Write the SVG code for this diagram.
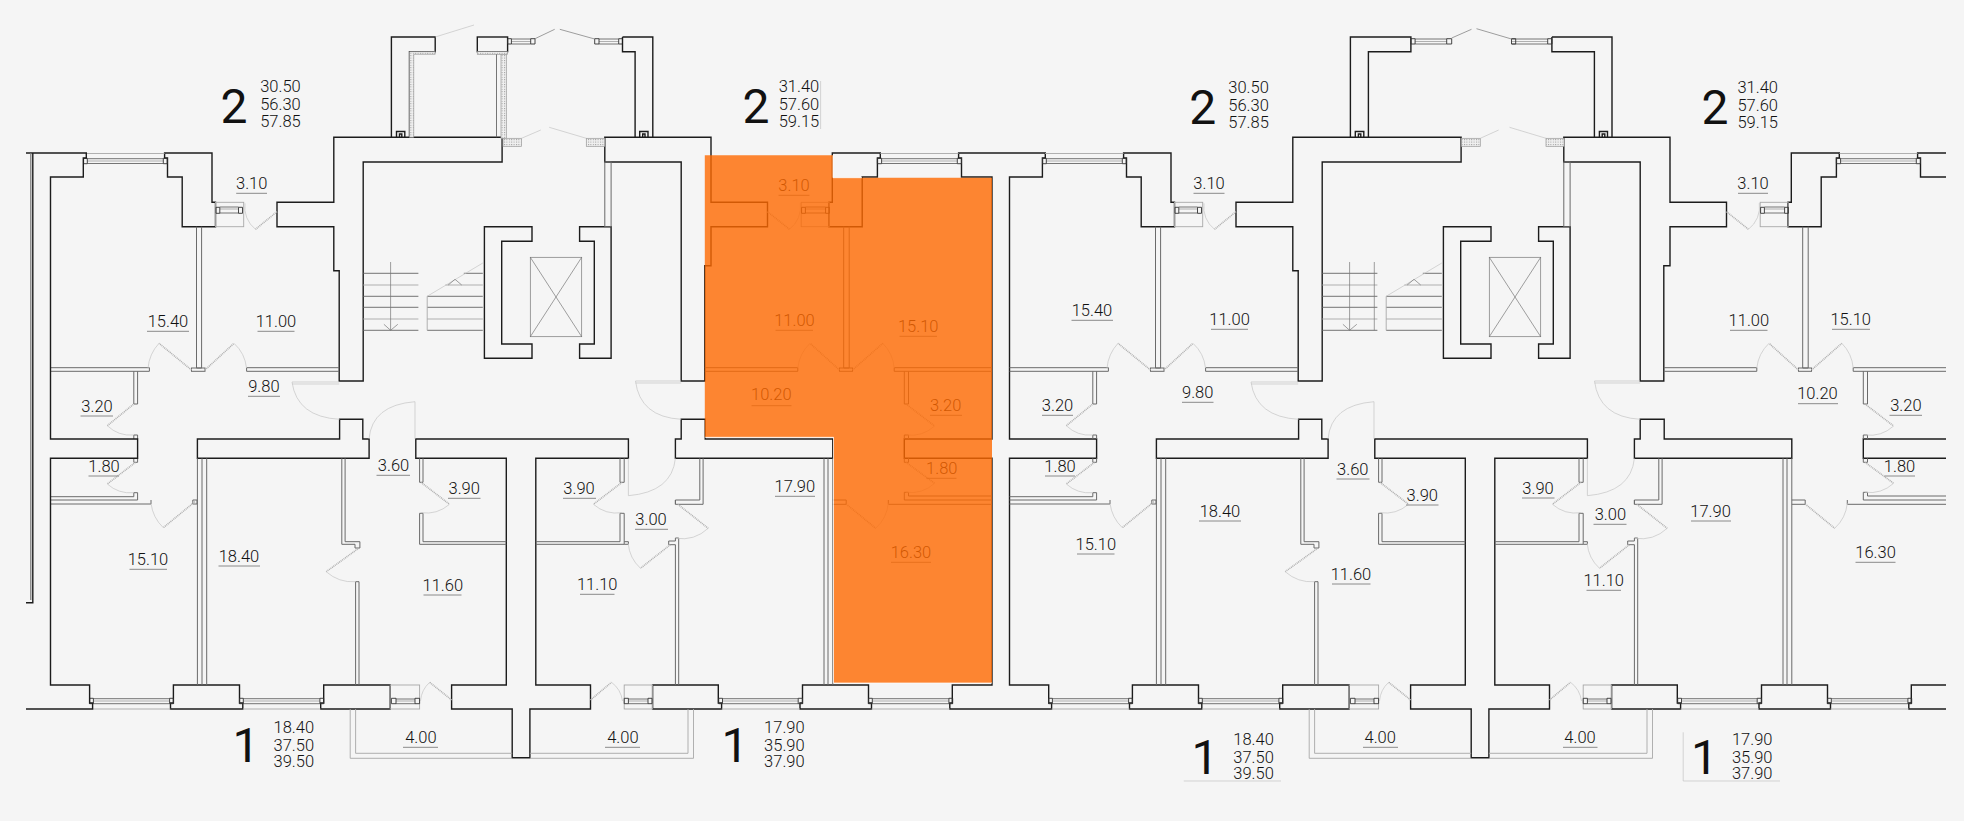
<svg xmlns="http://www.w3.org/2000/svg" width="1964" height="821" viewBox="0 0 1964 821">
<style>
text{font-family:Roboto,"Liberation Sans",sans-serif;font-weight:300;fill:#111;text-anchor:middle}
.t{font-size:16.5px}
.big{font-size:48px;font-weight:400}
.a{font-size:16.5px}
.w,.p,.l,.j,.d,.f,.s,.u,.x{fill:none}
.w{stroke:#1c1c1c;stroke-width:1.4}
.p{stroke:#6a6a6a;stroke-width:1}
.l{stroke:#a8a8a8;stroke-width:.9}
.j{stroke:#333;stroke-width:.9}
.d{stroke:#c4c4c4;stroke-width:.7}
.f{stroke:#b0b0b0;stroke-width:1.6;stroke-dasharray:1 .8}
.s{stroke:#666;stroke-width:.9}
.x{stroke:#777;stroke-width:.7}
.u{stroke:#8a8a8a;stroke-width:1}
.h{fill:url(#hatch);stroke:#999;stroke-width:.7}
</style>
<defs>
<pattern id="hatch" width="2.4" height="2.4" patternUnits="userSpaceOnUse"><rect width="2.4" height="2.4" fill="#f0f0f0"/><rect width="1" height="1" fill="#999"/></pattern>
<clipPath id="edge"><rect x="0" y="0" width="1946" height="821"/></clipPath>
<g id="module">
  <path class="w" d="M164.6,153H212V202.3H215.5V226.7H182.2V177H167.5V158H164.6Z"/>
  <path class="w" d="M333.8,137.3H502.1V162H363.2V381H339.2V270.7H333.8V226.7H277V202.3H333.8Z"/>
  <path class="w" d="M604.8,137.3H711V202.3H767.5V226.7H711V265.7H704.8V381H681.2V162H604.8Z"/>
  <path class="w" d="M484.4,226.7H532V241.3H501.7V344H532V358.3H484.4Z"/>
  <path class="w" d="M579.6,226.7H611.1V358.3H579.6V344H594.3V241.3H579.6Z"/>
  <rect class="x" x="530.3" y="257.3" width="51.4" height="79.4"/>
  <path class="x" d="M530.3,257.3L581.7,336.7M581.7,257.3L530.3,336.7"/>
  <rect class="p" x="604.8" y="162" width="6.3" height="64.7"/>
  <path class="s" d="M363.2,273.3H418.4M363.2,296.3H418.4M363.2,307.3H418.4M363.2,330.3H418.4M463.8,273.3H482.8M427.2,296.3H482.8M427.2,307.3H482.8M427.2,330.3H482.8"/>
  <path class="l" d="M363.2,285H418.4M363.2,319H418.4M445.3,285H482.8M427.2,319H482.8M427.2,296.3V330.3"/>
  <path class="d" d="M427.2,296.3L482.8,263"/>
  <path class="x" d="M390.6,262V330.3M383.9,324.3L390.6,330.3L397.8,324.3M448.2,285L455,279.3L461.7,285"/>
  <path class="w" d="M197.4,439H339.6V419.3H362.8V439H369.1V458.3H197.4Z"/>
  <path class="w" d="M415.8,439H628.4V458.3H535.8V685H590.5V709H529.9V757.7H512.2V709H451.6V685H506.3V458.3H415.8Z"/>
  <path class="w" d="M675.4,439H681.2V419.3H705.2V439H832.8V458.3H675.4Z"/>
  <path class="w" d="M173.4,685H239.5V703H242.8V709H170.5V703H173.4Z"/>
  <path class="w" d="M323.7,685H390.2V709H320.7V703H323.7Z"/>
  <path class="w" d="M652.6,685H718.3V703H721.6V709H652.6Z"/>
  <path class="w" d="M802.5,685H868.5V703H871.5V709H800V703H802.5Z"/>
  <path class="w" d="M832.3,153H880.3V158H877.4V177H862.2V226.7H829V202.3H832.3Z"/>
  <path class="w" d="M958.6,153H1045.3V158H1042.4V177H1009.5V439H1096.6V458.3H1009.5V685H1048.7V703H1051.6V709H949.8V703H952.3V685H992V458.3H904.3V439H992V177H961.5V158H958.6Z"/>
  <path class="p" d="M196.5,226.7V368H201.6V226.7"/>
  <rect class="p" x="191.5" y="368" width="13.5" height="3.3"/>
  <path class="p" d="M50.5,367.7H149.4V371.3H50.5M246.6,371.3V367.7H339.2M246.6,371.3H339.2"/>
  <path class="p" d="M133.8,371.3V404H137.6V371.3"/>
  <path class="p" d="M133.8,439V435H137.6V439M133.8,458.3V462.3H137.6V458.3"/>
  <path class="p" d="M50.5,496.7H133.8V492.7H137.6V500H50.5M50.5,504H151V500M192.8,504H197V500H192.8Z"/>
  <path class="p" d="M197.4,458.3V685M202,458.3V685M206.7,458.3V685"/>
  <path class="p" d="M341.8,458.3V544.3H355V548H359.9V541.7H345.1V458.3"/>
  <path class="p" d="M355.6,685V581.7H359V685"/>
  <path class="p" d="M423,458.3V482.3H419.6V458.3M419.6,513.3H423V541.7H506.3M419.6,513.3V544.3H506.3"/>
  <path class="p" d="M620,458.3V482.3H624.2V458.3M620,513.3H624.2V544.3H535.8M620,513.3V541.7H535.8M624.2,541.7H628.4V544.3H624.2"/>
  <path class="p" d="M699.8,458.3V500H675.4V504.3H703.1V458.3M675.4,500V504.3"/>
  <path class="p" d="M668.7,544.7V541H675.4V538H678.7V685M675.4,544.7V685M668.7,544.7H675.4"/>
  <path class="p" d="M824,458.3V685M828,458.3V685M832.8,458.3V685"/>
  <path class="p" d="M843.7,226.7V368H849.2V226.7"/>
  <rect class="p" x="839.5" y="368" width="13" height="3.3"/>
  <path class="p" d="M704.8,367.7H797.8V371.3H704.8M894.2,371.3V367.7H991.9M894.2,371.3H991.9"/>
  <path class="p" d="M904.3,371.3V404H908.5V371.3M904.3,439V435H908.5V439M904.3,458.3V462.3H908.5V458.3"/>
  <path class="p" d="M991.9,496H908.5V492.3H904.3V500H991.9M991.9,504.3H888.3V500M832.8,500H846.2V504.3H832.8"/>
  <path class="l" d="M86,153.5H164.6M880.3,153.5H958.6"/>
  <path class="s" d="M87.3,158.7H163.3M87.3,163.5H163.3M881.6,158.7H957.3M881.6,163.5H957.3"/>
  <path class="l" d="M87.3,161H163.3M881.6,161H957.3"/>
  <path class="j" d="M83.6,158.3h3.7v5.4h-3.7zM163.3,158.3h3.9v5.4h-3.9zM877.4,158.3h4.2v5.4h-4.2zM957.3,158.3h4.2v5.4h-4.2z"/>
  <rect class="l" x="215.5" y="202.3" width="28.2" height="24.4"/>
  <rect class="l" x="801.2" y="202.3" width="28" height="24.4"/>
  <path class="s" d="M219.8,207H238.5M219.8,213H238.5M805.4,207H825.6M805.4,213H825.6"/>
  <path class="l" d="M219.8,209H238.5M805.4,209H825.6"/>
  <path class="j" d="M216,207.3h3.8v6h-3.8zM238.5,207.3h4v6h-4zM801.6,207.3h3.8v6h-3.8zM825.6,207.3h3.8v6h-3.8z"/>
  <path class="s" d="M93.4,698.7H169.6M93.4,703.7H169.6M243.3,698.7H319.9M243.3,703.7H319.9M722.5,698.7H798.2M722.5,703.7H798.2M872.3,698.7H948.9M872.3,703.7H948.9M396,699H415M396,703.7H415M628.4,699H648M628.4,703.7H648"/>
  <path class="l" d="M93.4,701H169.6M243.3,701H319.9M722.5,701H798.2M872.3,701H948.9M396,701H415M628.4,701H648M92.6,709H170.5M242.8,709H320.7M721.6,709H800M871.5,709H949.8"/>
  <rect class="l" x="390.2" y="685" width="29.4" height="24"/>
  <rect class="l" x="624.2" y="685" width="28.4" height="24"/>
  <path class="j" d="M89.6,698.3h3.8v5.4h-3.8zM169.6,698.3h3.8v5.4h-3.8zM239.5,698.3h3.8v5.4h-3.8zM319.9,698.3h3.8v5.4h-3.8zM391.4,698.3h4.6v5.4h-4.6zM415,698.3h4.6v5.4h-4.6zM624.2,698.3h4.2v5.4h-4.2zM648,698.3h4v5.4h-4zM718.7,698.3h3.8v5.4h-3.8zM798.2,698.3h4.3v5.4h-4.3zM868.5,698.3h3.8v5.4h-3.8zM948.9,698.3h3.8v5.4h-3.8z"/>
  <path class="l" d="M350.2,709V758.3H512.2M529.9,758.3H693.5V709M355.6,709V753.3H512.2M529.9,753.3H688V709"/>
  <path class="f" d="M191.5,370L159,343.3M205,370L234,343.3M107.3,425.7L133.8,404M135.5,462.3L107.3,484M194.9,501.7L163.3,527.7M421,482.3L449.5,504.3M622,482.3L593.4,504.3M359,548L326.2,571.7M677.9,504.3L708.2,528.3M670.3,544.7L640.5,568.3M839.5,370L810,343.3M852.5,370L882.8,343.3M846.2,504L875.7,528.3M906,462.3L934.6,483.3M906,404L934.6,426M277,211.7L255.5,229.3M767.5,211.7L789.4,229.3M451.6,700L429.7,682.3M590.5,700L611.5,682.3"/>
  <path class="d" d="M159,343.3A42,42 0 0 0 148,368.3M234,343.3A39,39 0 0 1 246.5,368M107.3,425.7A34,34 0 0 0 133.8,435M107.3,484A35,35 0 0 0 133.8,492.7M163.3,527.7A41,41 0 0 1 151,503.3M449.5,504.3A36,36 0 0 1 421,512.7M593.4,504.3A36,36 0 0 0 622,512.7M326.2,571.7A40,40 0 0 0 355.6,581.7M708.2,528.3A39,39 0 0 1 675.8,538.3M640.5,568.3A38,38 0 0 1 628.2,543.3M810,343.3A40,40 0 0 0 797.8,368M882.8,343.3A40,40 0 0 1 894.2,368M875.7,528.3A39,39 0 0 0 888.3,503M934.6,483.3A36,36 0 0 1 906,492.3M934.6,426A36,36 0 0 1 906,435M255.5,229.3A28,28 0 0 1 245,203.3M789.4,229.3A28,28 0 0 0 800.3,203M429.7,682.3A28,28 0 0 0 420.5,701M611.5,682.3A28,28 0 0 1 622.5,701"/>
  <path class="d" d="M292,382H339.2M292,384H339.2M292,382Q297,417 339.6,419.3M415,401.7V439M369,439Q372,405 415,401.7M628.4,458.3V495.7M675.4,458.3Q672,492 628.4,495.7M635.5,381H681.2M635.5,383H681.2M635.5,381Q640,417 681.2,419.3"/>
</g>
</defs>

<rect width="1964" height="821" fill="#f5f5f5"/>

<g id="plan-section-1">
  <use href="#module"/>
  <g id="section-1-ends">
    <path class="w" d="M26,153H86.3V158H83.3V177H50.5V439H137.6V458.3H50.5V685H89.6V703H92.6V709H26"/>
    <path class="w" d="M32.8,153V602.7H26"/>
    <path d="M30.8,153V600" fill="none" stroke="#777" stroke-width="1.2"/>
  </g>
  <g id="section-1-balcony">
    <path class="w" d="M391.4,137.3V37H435.2V51.7H409.5V137.3"/>
    <path class="w" d="M396.5,137.3V131.5H404.8V137.3M399.5,137.3V134H401.8V137.3"/>
    <path class="h" d="M409.5,51.7H435.2V54.3H413.7V137.3H409.5Z"/>
    <rect class="w" x="477.3" y="37" width="30.3" height="14.7"/>
    <rect class="h" x="477.3" y="51.7" width="30.3" height="2.6"/>
    <path class="s" d="M496.5,54.3V137.3"/>
    <rect class="h" x="501" y="54.3" width="5.3" height="84"/>
    <rect class="h" x="503" y="138.3" width="18.4" height="8"/>
    <rect class="h" x="586.3" y="138.3" width="18.5" height="8"/>
    <path class="s" d="M511.4,39H530.7M511.4,44H530.7M599,39H618.7M599,44H618.7"/>
    <path class="l" d="M511.4,41.5H530.7M599,41.5H618.7"/>
    <path class="j" d="M507.6,38.7h3.8v5.3h-3.8zM530.7,38.7h4.3v5.3h-4.3zM594.7,38.7h4.3v5.3h-4.3zM618.7,38.7h3.8v5.3h-3.8z"/>
    <path class="x" d="M535,38.7L554.7,29.3M559.8,29.3L594.7,39"/>
    <path class="d" d="M435.2,37L474,25M521.5,138.3L540.8,130M549.2,127.3L586.3,138.3"/>
    <path class="w" d="M622.5,37H652.8V137.3M622.5,37V51.7H635.1V137.3"/>
    <path class="w" d="M639.7,137.3V131.5H648V137.3M642.7,137.3V134H645V137.3"/>
  </g>
  <g id="section-1-labels">
    <text class="big" x="234" y="123.3">2</text>
    <text class="a" x="280.5" y="92.3">30.50</text><text class="a" x="280.5" y="110">56.30</text><text class="a" x="280.5" y="127">57.85</text>
    <text class="big" x="756" y="123.3">2</text>
    <text class="a" x="799" y="92.3">31.40</text><text class="a" x="799" y="110">57.60</text><text class="a" x="799" y="127">59.15</text>
    <path class="d" d="M820.6,81V129"/>
    <text class="big" x="246" y="762.3">1</text>
    <text class="a" x="293.8" y="733.3">18.40</text><text class="a" x="293.8" y="750.7">37.50</text><text class="a" x="293.8" y="767.3">39.50</text>
    <text class="big" x="735" y="762.3">1</text>
    <text class="a" x="784.4" y="733.3">17.90</text><text class="a" x="784.4" y="750.7">35.90</text><text class="a" x="784.4" y="767.3">37.90</text>
    <text class="t" x="251.7" y="189.3">3.10</text>
    <text class="t" x="168" y="327.3">15.40</text>
    <text class="t" x="276" y="327.3">11.00</text>
    <text class="t" x="263.9" y="391.7">9.80</text>
    <text class="t" x="97" y="412">3.20</text>
    <text class="t" x="104" y="472">1.80</text>
    <text class="t" x="148" y="564.7">15.10</text>
    <text class="t" x="239" y="561.7">18.40</text>
    <text class="t" x="442.8" y="591">11.60</text>
    <text class="t" x="393.5" y="471">3.60</text>
    <text class="t" x="464.2" y="494">3.90</text>
    <text class="t" x="579" y="494">3.90</text>
    <text class="t" x="420.9" y="742.7">4.00</text>
    <text class="t" x="622.9" y="742.7">4.00</text>
    <text class="t" x="651" y="525.3">3.00</text>
    <text class="t" x="597.2" y="590.3">11.10</text>
    <text class="t" x="794.9" y="492">17.90</text>
    <text class="t" x="794" y="191.3">3.10</text>
    <text class="t" x="794.5" y="325.7">11.00</text>
    <text class="t" x="918.2" y="332">15.10</text>
    <text class="t" x="771.3" y="400.3">10.20</text>
    <text class="t" x="945.6" y="411">3.20</text>
    <text class="t" x="941.8" y="474">1.80</text>
    <text class="t" x="911" y="557.7">16.30</text>
    <path class="u" d="M236.2,193.3H267M147,331.3H189M257.5,331.3H294.5M248,396.3H280M80.5,416H113M88.5,476H119M129.5,569.3H167M218.5,566H260M423.5,595H461.5M376.5,475.3H410M448,498.3H480.5M563,498.3H596M403,747.3H438M605,747.3H640M635,529.3H668M580,594.3H614.5M775,496.3H815M778.5,195.3H809.5M775.5,330.3H813M899.5,336.3H937M751.5,405.7H791.5M930,415.3H962M926.5,478.3H956.5M891,562.3H931"/>
  </g>
  <path id="selected-apartment" d="M704.8,155.3H833V177.7H992V683H833.5V437.3H704.8Z" fill="#ff6900" fill-opacity=".8"/>
  <path d="M704.8,437.3H833.5V683H992M833,155.3V177.7H862" fill="none" stroke="#fff" stroke-opacity=".7" stroke-width="1"/>
</g>

<g id="plan-section-2">
  <g clip-path="url(#edge)"><use href="#module" x="959"/></g>
  <g id="section-2-balcony">
    <path class="w" d="M1350.4,137.3V37H1410.9V51.7H1368.4V137.3"/>
    <path class="w" d="M1355.3,137.3V131.5H1363.8V137.3M1358.4,137.3V134H1360.8V137.3"/>
    <path class="w" d="M1551.9,37H1612V137.3M1551.9,37V51.7H1594.4V137.3"/>
    <path class="w" d="M1599.4,137.3V131.5H1607.5V137.3M1602.2,137.3V134H1604.8V137.3"/>
    <rect class="h" x="1461.4" y="138.3" width="18.9" height="8"/>
    <rect class="h" x="1546" y="138.3" width="18.1" height="8"/>
    <path class="s" d="M1415.1,39H1446.7M1415.1,44H1446.7M1511.7,39H1547.7M1511.7,44H1547.7"/>
    <path class="l" d="M1415.1,41.5H1446.7M1511.7,41.5H1547.7"/>
    <path class="j" d="M1410.9,38.7h4.2v5.3h-4.2zM1446.7,38.7h5v5.3h-5zM1511.5,38.7h4.2v5.3h-4.2zM1547.7,38.7h4.2v5.3h-4.2z"/>
    <path class="x" d="M1451.7,38L1471.5,29.3M1476.5,28.7L1511.5,39"/>
    <path class="d" d="M1480.3,138.3L1498.7,130M1509.5,127.3L1546,138.3"/>
    <path class="x" d="M1374.3,262V330.3"/>
  </g>
  <g id="section-2-labels">
    <text class="big" x="1202.8" y="123.6">2</text>
    <text class="a" x="1248.6" y="93">30.50</text><text class="a" x="1248.6" y="110.7">56.30</text><text class="a" x="1248.6" y="127.7">57.85</text>
    <text class="big" x="1715" y="123.6">2</text>
    <text class="a" x="1757.7" y="93">31.40</text><text class="a" x="1757.7" y="110.7">57.60</text><text class="a" x="1757.7" y="127.7">59.15</text>
    <text class="big" x="1205" y="774.3">1</text>
    <text class="a" x="1253.6" y="745">18.40</text><text class="a" x="1253.6" y="762.7">37.50</text><text class="a" x="1253.6" y="779.3">39.50</text>
    <text class="big" x="1704.5" y="774.3">1</text>
    <text class="a" x="1752.2" y="745">17.90</text><text class="a" x="1752.2" y="762.7">35.90</text><text class="a" x="1752.2" y="779.3">37.90</text>
    <path class="d" d="M1183.8,781H1281M1683.2,732.3V781H1780"/>
    <text class="t" x="1209" y="189.3">3.10</text>
    <text class="t" x="1092" y="316">15.40</text>
    <text class="t" x="1229.6" y="324.7">11.00</text>
    <text class="t" x="1197.7" y="397.7">9.80</text>
    <text class="t" x="1057.5" y="411">3.20</text>
    <text class="t" x="1060" y="471.7">1.80</text>
    <text class="t" x="1095.8" y="549.7">15.10</text>
    <text class="t" x="1220" y="517">18.40</text>
    <text class="t" x="1352.8" y="475">3.60</text>
    <text class="t" x="1422.3" y="501">3.90</text>
    <text class="t" x="1351" y="580">11.60</text>
    <text class="t" x="1538" y="493.7">3.90</text>
    <text class="t" x="1610.4" y="519.5">3.00</text>
    <text class="t" x="1603.7" y="586">11.10</text>
    <text class="t" x="1710.6" y="516.7">17.90</text>
    <text class="t" x="1380.2" y="742.7">4.00</text>
    <text class="t" x="1580" y="742.7">4.00</text>
    <text class="t" x="1875.6" y="557.7">16.30</text>
    <text class="t" x="1899.5" y="472">1.80</text>
    <text class="t" x="1905.9" y="411">3.20</text>
    <text class="t" x="1817.5" y="399">10.20</text>
    <text class="t" x="1748.9" y="325.7">11.00</text>
    <text class="t" x="1850.7" y="325">15.10</text>
    <text class="t" x="1753" y="189.3">3.10</text>
    <path class="u" d="M1193.5,193.3H1224.5M1071.5,320.3H1113M1211,329.3H1248M1182,402.3H1213.5M1042,415.3H1073M1045,476H1075M1077,554H1114.5M1199,521H1241M1336.5,479H1369.5M1406,505H1438.5M1332,584H1370.5M1522,498H1554.5M1593.5,524.3H1626.5M1586.5,590.3H1621M1691,521H1731M1363,747.3H1398M1563,747.3H1597.5M1855.5,562.3H1895.5M1884.5,476H1915M1889.5,415.3H1922M1798,403.7H1838M1730,330.3H1767.5M1832,329.3H1870M1738,193.3H1768"/>
  </g>
</g>
</svg>
